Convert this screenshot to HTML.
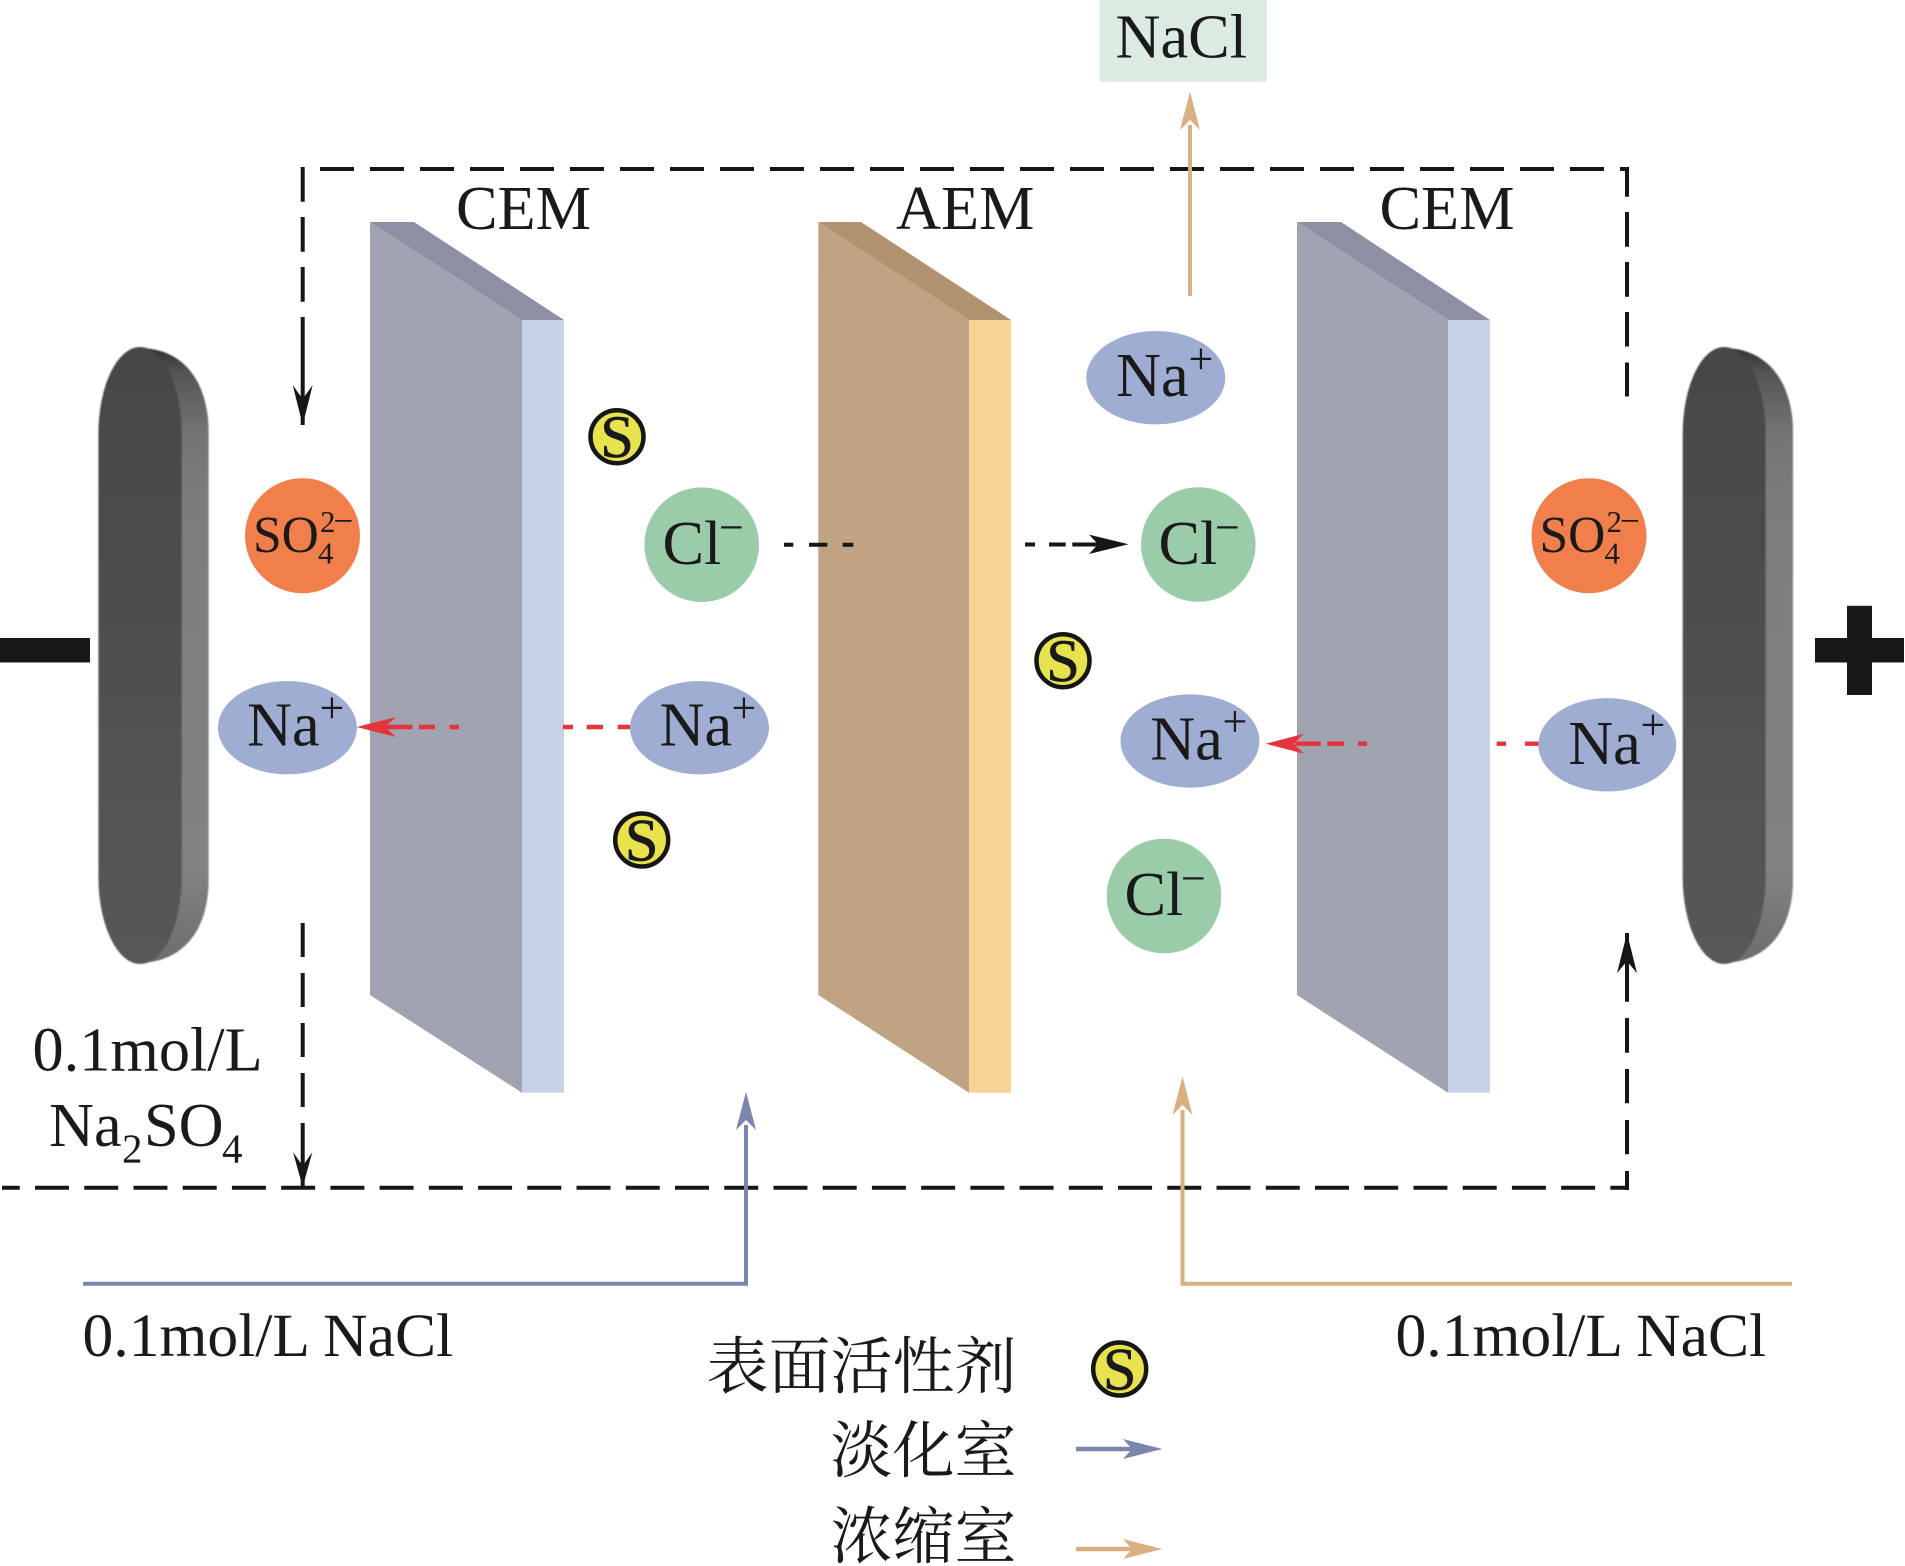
<!DOCTYPE html>
<html><head><meta charset="utf-8"><style>
html,body{margin:0;padding:0;background:#fff}
svg{display:block}
text{font-family:"Liberation Serif","Noto Serif CJK SC",serif;fill:#1a1a1a;font-size:62.3px}
.s{font-size:62px}
.u{font-size:44px}
.m{font-size:44px}
.t{font-size:31px}
.tm{font-size:35px}
.so{font-size:51.5px}
.d{fill:none;stroke:#161616;stroke-width:4}
.cjk{font-family:"Noto Serif CJK SC","Liberation Serif",serif;font-size:62px;text-anchor:end}
.sg{font-size:60px;stroke:#1a1a1a;stroke-width:.8}
</style></head><body>
<svg width="1905" height="1566" viewBox="0 0 1905 1566" xmlns="http://www.w3.org/2000/svg">
<defs>
<linearGradient id="f" x1="0" y1="0" x2="0" y2="1"><stop offset="0" stop-color="#464646"/><stop offset="1" stop-color="#585858"/></linearGradient>
<linearGradient id="b" x1="0" y1="0" x2="0" y2="1"><stop offset="0" stop-color="#303030"/><stop offset=".04" stop-color="#555"/><stop offset=".14" stop-color="#747474"/><stop offset=".25" stop-color="#7c7c7c"/><stop offset=".85" stop-color="#828282"/><stop offset="1" stop-color="#6c6c6c"/></linearGradient>
<filter id="bl" x="-10%" y="-5%" width="120%" height="110%"><feGaussianBlur stdDeviation="0.9"/></filter>
</defs>

<!-- box at top -->
<rect x="1099.5" y="0" width="167.5" height="81.7" fill="#dcebe1"/>
<text x="1115.5" y="57.3">NaCl</text>

<!-- membranes -->
<polygon points="370,222 414,222 564,320 522,320" fill="#8d90a4"/>
<polygon points="370,222 522,320 522,1092.7 370,995" fill="#a1a3b0"/>
<rect x="522" y="320" width="42" height="772.7" fill="#c6d1e5"/>

<polygon points="818.3,222 861,222 1011,320 969,320" fill="#b1926f"/>
<polygon points="818.3,222 969,320 969,1092.7 818.3,995" fill="#bfa383"/>
<rect x="969" y="320" width="42" height="772.7" fill="#f8d396"/>

<polygon points="1297,222 1341,222 1490,320 1448,320" fill="#8d90a4"/>
<polygon points="1297,222 1448,320 1448,1092.7 1297,995" fill="#a1a3b0"/>
<rect x="1448" y="320" width="42" height="772.7" fill="#c6d1e5"/>

<!-- electrodes -->
<g filter="url(#bl)">
<path d="M142 348C190 350 208.6 390 208.6 432V880C208.6 922 190 960 142 963Z" fill="url(#b)"/>
<rect x="98.4" y="347" width="83.4" height="617" rx="41.7" ry="87" fill="url(#f)"/>
<path d="M1726 348C1774 350 1793 390 1793 432V880C1793 922 1774 960 1726 963Z" fill="url(#b)"/>
<rect x="1682.7" y="347" width="83" height="617" rx="41.5" ry="87" fill="url(#f)"/>
</g>

<!-- polarity -->
<rect x="0" y="638" width="90" height="24.5" fill="#181818"/>
<rect x="1815" y="638" width="89" height="24.5" fill="#181818"/>
<rect x="1847" y="605.8" width="25" height="89.2" fill="#181818"/>

<!-- dashed loop -->
<path class="d" d="M320 169H1629" stroke-dasharray="34 16"/>
<path class="d" d="M302.7 167V201.7M302.7 217V251.7M302.7 267V301.7M302.7 317V425"/>
<polygon points="302.7,425 292.7,385 302.7,399 312.7,385" fill="#161616"/>
<path class="d" d="M1627 167V196.7M1627 212V246.7M1627 262V296.7M1627 312V346.5M1627 362.5V396.5"/>
<path class="d" d="M1627 933V1001.7M1627 1018V1052.7M1627 1069V1103.3M1627 1120V1154.3M1627 1171V1190"/>
<polygon points="1627,933 1617,973.3 1627,961 1637,973.3" fill="#161616"/>
<path class="d" d="M302.7 923V957M302.7 973V1007M302.7 1023V1057M302.7 1073V1107M302.7 1123V1187"/>
<polygon points="302.7,1187 293,1152 302.7,1166 312.4,1152" fill="#161616"/>
<path class="d" d="M2 1187.7H1628" stroke-dasharray="34 15.23" stroke-dashoffset="16.23"/>

<!-- feed lines -->
<path d="M83 1283.7H746V1125" fill="none" stroke="#7a86ae" stroke-width="4"/>
<polygon points="746,1091.7 736,1130 746,1120 756,1130" fill="#7a86ae"/>
<path d="M1792 1283.7H1182.5V1110" fill="none" stroke="#d9b081" stroke-width="4"/>
<polygon points="1182.5,1076.5 1172.5,1115 1182.5,1105 1192.5,1115" fill="#d9b081"/>
<path d="M1190 296V125" fill="none" stroke="#d9b081" stroke-width="4"/>
<polygon points="1190,91.7 1180,130 1190,120 1200,130" fill="#d9b081"/>

<!-- black dashed Cl- -->
<path class="d" d="M784 544.7H793.3M809 544.7H827.3M842.7 544.7H853.3M1025 544.5H1035M1049 544.5H1065.7M1072.3 544.5H1100"/>
<polygon points="1128.5,544.3 1089,534.6 1098,544.3 1089,554" fill="#161616"/>

<!-- red arrows -->
<path d="M385 727H412.5M419 727H435M449.6 727H459M563 727H573M586.7 727H603M617.7 727H630" fill="none" stroke="#e4353c" stroke-width="4.4"/>
<polygon points="356.7,727 396,717 385,727 396,737" fill="#e4353c"/>
<path d="M1295 743.7H1320.7M1327.3 743.7H1344M1358 743.7H1367M1496.7 743.7H1506M1525 743.7H1539" fill="none" stroke="#e4353c" stroke-width="4.4"/>
<polygon points="1265.7,743.7 1304,733.7 1294,743.7 1304,753.7" fill="#e4353c"/>

<!-- SO4 ions -->
<circle cx="302.5" cy="535.7" r="57.5" fill="#f17f4c"/>
<text x="253" y="552" class="so">SO</text>
<text x="320" y="532" class="t">2</text>
<text x="333.5" y="532.5" class="tm">−</text>
<text x="318" y="563.5" class="t">4</text>

<circle cx="1589" cy="535.7" r="57.5" fill="#f17f4c"/>
<text x="1539.5" y="552" class="so">SO</text>
<text x="1606.5" y="532" class="t">2</text>
<text x="1620" y="532.5" class="tm">−</text>
<text x="1604.5" y="563.5" class="t">4</text>

<!-- Na+ ions -->
<ellipse cx="287.4" cy="727.7" rx="69.5" ry="46.7" fill="#9fadd3"/>
<text x="247" y="745.7">Na</text><text x="319.5" y="722.5" class="u">+</text>

<ellipse cx="699.5" cy="727.7" rx="69.5" ry="46.7" fill="#9fadd3"/>
<text x="659.5" y="745.7">Na</text><text x="731.5" y="722.5" class="u">+</text>

<ellipse cx="1155.8" cy="377.7" rx="69.5" ry="46.7" fill="#9fadd3"/>
<text x="1116" y="396">Na</text><text x="1188.5" y="373.5" class="u">+</text>

<ellipse cx="1190" cy="741" rx="69.5" ry="46.7" fill="#9fadd3"/>
<text x="1150.2" y="759.3">Na</text><text x="1222.5" y="736" class="u">+</text>

<ellipse cx="1607.3" cy="744.8" rx="69" ry="46.7" fill="#9fadd3"/>
<text x="1568.2" y="764">Na</text><text x="1640.5" y="739.5" class="u">+</text>

<!-- Cl- ions -->
<circle cx="701.7" cy="544.7" r="57.3" fill="#9accaa"/>
<text x="662.5" y="564">Cl</text><text x="719" y="542" class="m">−</text>

<circle cx="1198.3" cy="544.5" r="57.3" fill="#9accaa"/>
<text x="1158.5" y="564">Cl</text><text x="1215" y="542" class="m">−</text>

<circle cx="1164" cy="896" r="57.3" fill="#9accaa"/>
<text x="1124.5" y="915">Cl</text><text x="1181" y="893" class="m">−</text>

<!-- surfactant markers -->
<g fill="#e8e24f" stroke="#161616" stroke-width="4.5">
<circle cx="617" cy="436.7" r="26.5"/>
<circle cx="641.7" cy="840" r="26.5"/>
<circle cx="1063" cy="660.7" r="26.5"/>
<circle cx="1119.7" cy="1369" r="26.5"/>
</g>
<text x="617" y="457" class="sg" text-anchor="middle">S</text>
<text x="641.7" y="860.5" class="sg" text-anchor="middle">S</text>
<text x="1063" y="681" class="sg" text-anchor="middle">S</text>
<text x="1119.7" y="1389.5" class="sg" text-anchor="middle">S</text>

<!-- membrane labels -->
<text x="456" y="229">CEM</text>
<text x="896" y="229">AEM</text>
<text x="1379.5" y="229">CEM</text>

<!-- solution labels -->
<text x="32.5" y="1070.7">0.1mol/L</text>
<text x="49" y="1146">Na</text>
<text x="122" y="1162.3" style="font-size:41px">2</text>
<text x="144" y="1146">SO</text>
<text x="222" y="1162.3" style="font-size:41px">4</text>
<text x="82.5" y="1356" style="font-size:61.6px">0.1mol/L NaCl</text>
<text x="1395.5" y="1356" style="font-size:61.6px">0.1mol/L NaCl</text>

<!-- legend -->
<text class="cjk" x="1016.5" y="1388">表面活性剂</text>
<text class="cjk" x="1016.5" y="1472">淡化室</text>
<text class="cjk" x="1016.5" y="1558">浓缩室</text>
<path d="M1076 1449H1135" stroke="#7a86ae" stroke-width="4.5" fill="none"/>
<polygon points="1162.5,1449 1123,1439 1132,1449 1123,1459" fill="#7a86ae"/>
<path d="M1076 1549H1135" stroke="#d9b081" stroke-width="4.5" fill="none"/>
<polygon points="1162.5,1549 1123,1539 1132,1549 1123,1559" fill="#d9b081"/>
</svg>
</body></html>
